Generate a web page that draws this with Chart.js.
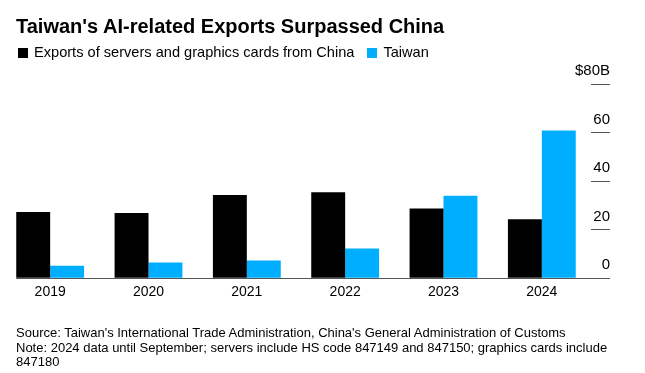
<!DOCTYPE html>
<html>
<head>
<meta charset="utf-8">
<script src="https://cdn.jsdelivr.net/npm/chart.js@4"></script>
<style>
    body { margin: 0; background: #fff; font-family: "Liberation Sans", Arial, sans-serif; color: #000; }
    #wrap { position: relative; width: 645px; height: 373px; overflow: hidden; }
    #chartBox { position: absolute; left: 0; top: 0; width: 645px; height: 373px; }
    .title { position: absolute; left: 16px; top: 14px; font-size: 20px; line-height: 24px; font-weight: bold; white-space: nowrap; }
    .legend { position: absolute; left: 18px; top: 43px; font-size: 14.6px; line-height: 18px; white-space: nowrap; }
    .legend .box { display: inline-block; width: 10px; height: 10px; vertical-align: -1px; margin-right: 6px; }
    .legend .item + .item { margin-left: 13px; }
    .note { position: absolute; left: 16px; top: 326px; font-size: 13px; line-height: 14.5px; white-space: nowrap; }
</style>
</head>
<body>
<div id="wrap">
    <div id="chartBox"><canvas id="myChart"></canvas></div>
    <div class="title">Taiwan's AI-related Exports Surpassed China</div>
    <div class="legend" id="legend"></div>
    <div class="note">
        Source: Taiwan's International Trade Administration, China's General Administration of Customs<br>
        Note: 2024 data until September; servers include HS code 847149 and 847150; graphics cards include<br>
        847180
    </div>
</div>
<script>
// values in $ billions
const years = ["2019", "2020", "2021", "2022", "2023", "2024"];
const chinaExports = [27.3, 26.9, 34.3, 35.4, 28.7, 24.3];
const taiwanExports = [5.1, 6.5, 7.3, 12.2, 34.0, 60.8];
const yTicks = [0, 20, 40, 60, 80];

const seriesNames = ["Exports of servers and graphics cards from China", "Taiwan"];
const seriesColors = ["#000000", "#00aeff"];

document.addEventListener("DOMContentLoaded", function () {
    // legend in html
    let legend = document.getElementById("legend");
    seriesNames.forEach((name, i) => {
        let item = document.createElement("span");
        item.className = "item";
        item.innerHTML = '<span class="box" style="background:' + seriesColors[i] + '"></span>' + name;
        legend.appendChild(item);
    });

    const tickLen = 19;

    // zero line from first bar to end of the right ticks
    const baseline = {
        id: "baseline",
        afterDatasetsDraw(chart) {
            const { ctx, chartArea, scales } = chart;
            const bar = chart.getDatasetMeta(0).data[0];
            const y0 = Math.round(scales.y.getPixelForValue(0)) + 0.5;
            ctx.save();
            ctx.strokeStyle = "#555";
            ctx.lineWidth = 1;
            ctx.beginPath();
            ctx.moveTo(bar.x - bar.width / 2, y0);
            ctx.lineTo(chartArea.right + tickLen, y0);
            ctx.stroke();
            ctx.restore();
        }
    };

    const fontFamily = '"Liberation Sans", Arial, sans-serif';

    const ctx = document.getElementById("myChart").getContext("2d");
    new Chart(ctx, {
        type: "bar",
        data: {
            labels: years,
            datasets: [{
                label: seriesNames[0],
                data: chinaExports,
                backgroundColor: seriesColors[0]
            }, {
                label: seriesNames[1],
                data: taiwanExports,
                backgroundColor: seriesColors[1]
            }]
        },
        options: {
            responsive: true,
            maintainAspectRatio: false,
            animation: false,
            datasets: {
                bar: { categoryPercentage: 0.69, barPercentage: 1 }
            },
            layout: {
                padding: { top: 84, left: 1, right: 35, bottom: 66 }
            },
            plugins: {
                legend: { display: false },
                tooltip: { enabled: false }
            },
            scales: {
                x: {
                    grid: { display: false, drawTicks: false },
                    border: { display: false },
                    ticks: { color: "#000", font: { family: fontFamily, size: 14 }, padding: 6, maxRotation: 0 }
                },
                y: {
                    position: "right",
                    min: 0,
                    max: 80,
                    afterBuildTicks: axis => {
                        axis.ticks = yTicks.map(v => ({ value: v }));
                    },
                    // labels sit above the short tick marks
                    afterFit: axis => { axis.width = tickLen; },
                    grid: { drawOnChartArea: false, tickLength: tickLen, color: "#555" },
                    border: { display: false },
                    ticks: {
                        color: "#000",
                        font: { family: fontFamily, size: 15 },
                        mirror: true,
                        padding: tickLen,
                        labelOffset: -13,
                        callback: v => v === 80 ? "$80B" : v
                    }
                }
            }
        },
        plugins: [baseline]
    });
});
</script>
</body>
</html>
